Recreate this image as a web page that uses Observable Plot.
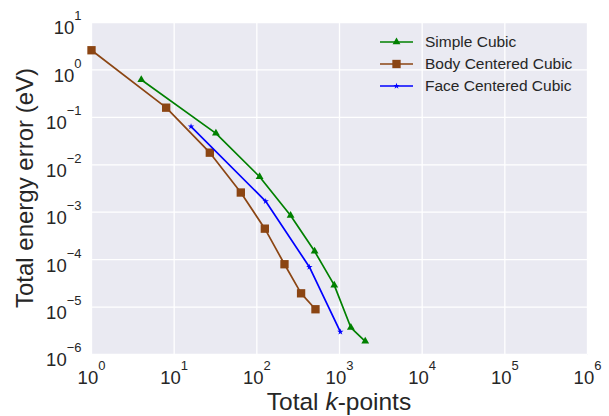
<!DOCTYPE html>
<html><head><meta charset="utf-8">
<script src="https://cdn.jsdelivr.net/npm/d3@7"></script>
<script src="https://cdn.jsdelivr.net/npm/@observablehq/plot@0.6"></script>
<style>
body{margin:0;background:#fff;}
#chart{width:609px;height:416px;}
svg{font-family:"Liberation Sans",Arial,sans-serif;}
</style></head><body><div id="chart"></div>
<script>
const seriesNames = ["Simple Cubic", "Body Centered Cubic", "Face Centered Cubic"];
const seriesColors = ["#008000", "#8B4513", "#0000FF"];
const seriesSymbols = ["triangle", "square", "star"];
const seriesR = [2.9, 4.7, 2.0];
const scK = [4, 32, 108, 256, 500, 864, 1372, 2048];
const scErr = [0.62, 0.046, 0.0056, 8.5e-4, 1.5e-4, 2.9e-5, 3.7e-6, 1.9e-6];
const bccK = [1, 8, 27, 64, 125, 216, 343, 512];
const bccErr = [2.6, 0.16, 0.018, 0.0026, 4.5e-4, 8e-5, 1.95e-5, 9e-6];
const fccK = [16, 128, 432, 1024];
const fccErr = [0.064, 0.0017, 7e-5, 3e-6];
const xTicks = [1, 10, 100, 1e3, 1e4, 1e5, 1e6];
const yTicks = [1e-6, 1e-5, 1e-4, 1e-3, 1e-2, 1e-1, 1, 10];
const xLabel = "Total k-points";
const yLabel = "Total energy error (eV)";

const seriesK = [scK, bccK, fccK];
const seriesErr = [scErr, bccErr, fccErr];
const data = seriesNames.flatMap((name, i) => seriesK[i].map((k, j) => ({series: name, k, err: seriesErr[i][j]})));

const W = 609, H = 416, mL = 91, mR = 22, mT = 22, mB = 62;
const textColor = "#262626";
const expFmt = d => "E" + Math.round(Math.log10(d));

const marks = [
  Plot.frame({fill: "#EAEAF2", stroke: "none"}),
  Plot.gridX(xTicks, {stroke: "white", strokeOpacity: 1, strokeWidth: 1.3}),
  Plot.gridY(yTicks, {stroke: "white", strokeOpacity: 1, strokeWidth: 1.3}),
  Plot.axisX(xTicks, {tickSize: 0, tickPadding: 16, tickFormat: expFmt, fontSize: 18.5, label: null, fill: textColor}),
  Plot.axisY(yTicks, {tickSize: 0, tickPadding: 10, tickFormat: expFmt, fontSize: 18.5, label: null, dy: 6, fill: textColor}),
];
seriesNames.forEach((name, i) => {
  const d = data.filter(r => r.series === name);
  marks.push(Plot.line(d, {x: "k", y: "err", stroke: seriesColors[i], strokeWidth: 1.7}));
  marks.push(Plot.dot(d, {x: "k", y: "err", symbol: seriesSymbols[i], fill: seriesColors[i], stroke: "none", r: seriesR[i]}));
});

const plot = Plot.plot({
  width: W, height: H,
  marginLeft: mL, marginRight: mR, marginTop: mT, marginBottom: mB,
  style: {fontFamily: "'Liberation Sans', Arial, sans-serif", background: "white", color: textColor},
  x: {type: "log", domain: [1, 1e6]},
  y: {type: "log", domain: [1e-6, 10]},
  marks
});
document.getElementById("chart").appendChild(plot);

const svg = d3.select(plot);
// superscript exponents in tick labels
svg.selectAll("text").each(function() {
  const t = this.textContent;
  const m = /^E(-?\d+)$/.exec(t);
  if (!m) return;
  const exp = m[1].replace("-", "\u2212");
  const el = d3.select(this);
  el.text(null);
  el.append("tspan").text("10");
  el.append("tspan").attr("dy", -14).attr("font-size", 13).text(exp);
});

// axis labels
const cx = mL + (W - mL - mR) / 2;
const cy = mT + (H - mT - mB) / 2;
const xl = svg.append("text").attr("x", cx).attr("y", 410).attr("text-anchor", "middle")
  .attr("font-size", 24.5).attr("fill", textColor);
const parts = xLabel.split("k");
xl.append("tspan").text(parts[0]);
xl.append("tspan").attr("font-style", "italic").text("k");
xl.append("tspan").text(parts[1]);
svg.append("text").attr("transform", `translate(33,${cy}) rotate(-90)`).attr("text-anchor", "middle")
  .attr("font-size", 24).attr("fill", textColor).text(yLabel);

// legend
const lg = svg.append("g");
const lx0 = W - mR - 207, rowY = [42, 64, 86];
seriesNames.forEach((name, i) => {
  const y = rowY[i];
  lg.append("line").attr("x1", lx0).attr("x2", lx0 + 33).attr("y1", y).attr("y2", y)
    .attr("stroke", seriesColors[i]).attr("stroke-width", 1.7);
  const sym = {triangle: d3.symbolTriangle, square: d3.symbolSquare, star: d3.symbolStar}[seriesSymbols[i]];
  lg.append("path").attr("d", d3.symbol(sym, Math.PI * seriesR[i] ** 2)())
    .attr("transform", `translate(${lx0 + 16.5},${y})`).attr("fill", seriesColors[i]);
  lg.append("text").attr("x", lx0 + 45).attr("y", y).attr("dy", "0.35em").attr("text-anchor", "start")
    .attr("font-size", 15.5).attr("fill", textColor).text(name);
});
</script></body></html>
